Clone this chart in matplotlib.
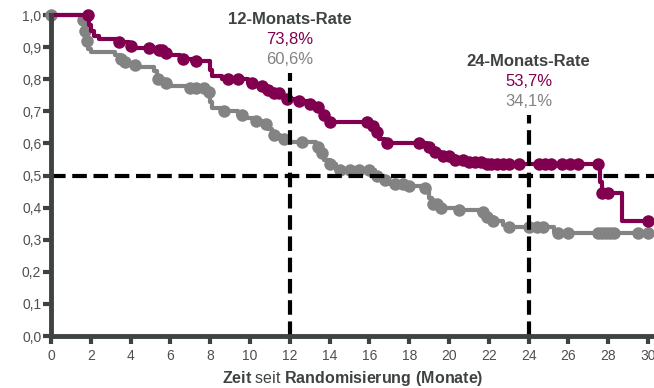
import numpy as np
import matplotlib
matplotlib.use("Agg")
import matplotlib.pyplot as plt

plt.rcParams['font.family'] = ['Liberation Sans', 'DejaVu Sans']
plt.rcParams['mathtext.fontset'] = 'custom'
plt.rcParams['mathtext.rm'] = 'Liberation Sans'
plt.rcParams['mathtext.bf'] = 'Liberation Sans:bold'

# magenta arm: step times (months) and survival after each step
mag_t = [0, 1.9, 2.0, 2.15, 2.4, 3.3, 3.9, 4.1, 5.3, 5.7, 6.0, 6.5, 7.1, 8.0, 8.1,
         8.6, 9.9, 10.3, 10.7, 11.1, 11.5, 11.8, 12.4, 12.9, 13.3, 13.6, 13.8, 14.0,
         16.1, 16.3, 16.5, 16.8, 18.9, 19.1, 19.6, 20.3, 21.0, 21.8, 27.6, 27.7, 28.7]
mag_s = [1.0, 0.97, 0.95, 0.935, 0.926, 0.917, 0.905, 0.898, 0.892, 0.883, 0.875, 0.864,
         0.858, 0.83, 0.81, 0.802, 0.79, 0.78, 0.768, 0.757, 0.748, 0.738, 0.731, 0.722,
         0.713, 0.69, 0.675, 0.667, 0.655, 0.635, 0.615, 0.602, 0.59, 0.572, 0.56, 0.55,
         0.543, 0.537, 0.48, 0.447, 0.357]
mag_cens = [1.85, 3.4, 4.0, 4.9, 5.45, 5.6, 5.8, 6.65, 7.3, 8.9, 9.4, 10.1, 10.6, 10.9,
            11.2, 11.45, 11.85, 12.45, 13.0, 13.4, 13.7, 14.0, 15.9, 16.2, 16.4, 16.9,
            18.5, 19.0, 19.3, 19.7, 20.0, 20.3, 20.7, 21.0, 21.3, 21.6, 21.9, 22.1,
            22.4, 22.7, 23.0, 23.5, 24.5, 24.8, 25.1, 25.7, 26.1, 26.5, 27.5, 27.7,
            28.0, 30.0]

# grey arm
gry_t = [0, 1.5, 1.65, 1.75, 1.85, 2.0, 3.2, 3.5, 3.7, 3.9, 4.3, 5.2, 5.35, 5.7, 6.0,
         7.0, 7.9, 8.0, 8.1, 8.6, 9.4, 9.8, 10.2, 10.6, 10.9, 11.1, 11.5, 11.8, 13.3,
         13.5, 13.7, 14.0, 14.3, 16.3, 16.6, 17.0, 18.0, 18.8, 19.0, 19.15, 19.5, 20.4,
         21.5, 21.9, 22.2, 22.7, 23.0, 25.3, 25.5]
gry_s = [1.0, 0.985, 0.95, 0.92, 0.895, 0.885, 0.877, 0.864, 0.853, 0.845, 0.838, 0.825,
         0.80, 0.787, 0.778, 0.772, 0.76, 0.73, 0.71, 0.70, 0.69, 0.68, 0.67, 0.66, 0.645,
         0.627, 0.614, 0.606, 0.59, 0.57, 0.55, 0.535, 0.518, 0.50, 0.485, 0.475, 0.468,
         0.46, 0.43, 0.41, 0.40, 0.393, 0.385, 0.37, 0.358, 0.345, 0.341, 0.325, 0.32]
gry_cens = [0.0, 1.6, 1.7, 1.8, 3.5, 3.7, 4.2, 5.4, 5.8, 7.0, 7.3, 7.7, 7.95, 8.7, 9.6,
            10.3, 10.8, 11.2, 11.7, 12.6, 13.4, 13.6, 14.0, 14.5, 15.0, 15.5, 16.0, 16.4,
            16.8, 17.3, 17.7, 18.0, 18.8, 19.2, 19.4, 19.6, 20.5, 21.7, 21.9, 22.2, 23.0,
            24.0, 24.4, 24.7, 25.5, 26.0, 27.5, 27.7, 27.9, 28.1, 28.3, 29.5, 30.0]

t_end = 30.0
x_ticks = list(range(0, 31, 2))
y_ticks = [round(v * 0.1, 1) for v in range(11)]
rates = [(12, '12-Monats-Rate', '73,8%', '60,6%'), (24, '24-Monats-Rate', '53,7%', '34,1%')]

MAG = '#80004f'
GRY = '#838383'
DARK = '#3f4242'


def km(ax, t, s, cens, color, z):
    tt = list(t) + [t_end]
    ss = list(s) + [s[-1]]
    ax.step(tt, ss, where='post', color=color, lw=3, zorder=z, clip_on=False)
    idx = np.searchsorted(t, cens, side='right') - 1
    cy = np.array(s)[idx]
    ax.plot(cens, cy, 'o', color=color, ms=9, mew=0, zorder=z, clip_on=False)


fig = plt.figure(figsize=(6.54, 3.88), dpi=100)
ax = fig.add_axes([0.078, 0.134, 0.922, 0.827])

km(ax, gry_t, gry_s, gry_cens, GRY, 3)
km(ax, mag_t, mag_s, mag_cens, MAG, 4)

dash = (0, (3.5, 1.6))
ax.axhline(0.5, color='black', lw=3, ls=dash, zorder=5)
ax.plot([12, 12], [0, 0.82], color='black', lw=3, ls=dash, zorder=5)
ax.plot([24, 24], [0, 0.69], color='black', lw=3, ls=dash, zorder=5)

for (m, title, r1, r2), ytop in zip(rates, [0.985, 0.855]):
    ax.text(m, ytop, title, ha='center', va='center', fontsize=12, fontweight='bold',
            color=DARK)
    ax.text(m, ytop - 0.062, r1, ha='center', va='center', fontsize=12, color=MAG)
    ax.text(m, ytop - 0.124, r2, ha='center', va='center', fontsize=12, color=GRY)

ax.set_xlim(0, 30.3)
ax.set_ylim(0, 1.0)
ax.set_xticks(x_ticks)
ax.set_xticklabels([str(v) for v in x_ticks])
ax.set_yticks(y_ticks)
ax.set_yticklabels([f'{v:.1f}'.replace('.', ',') for v in y_ticks])
ax.tick_params(colors=DARK, width=3, length=6, labelsize=10, pad=1)
ax.tick_params(axis='x', pad=3)
for lab in ax.get_xticklabels() + ax.get_yticklabels():
    lab.set_color('#4f4f4f')
for side in ['top', 'right']:
    ax.spines[side].set_visible(False)
for side in ['left', 'bottom']:
    ax.spines[side].set_color(DARK)
    ax.spines[side].set_linewidth(3.5)
    ax.spines[side].set_zorder(6)

ax.set_xlabel(r'$\bf{Zeit}$ seit $\bf{Randomisierung\ (Monate)}$', fontsize=11.5,
              color=DARK, labelpad=5)

fig.savefig('out.png', dpi=100)
